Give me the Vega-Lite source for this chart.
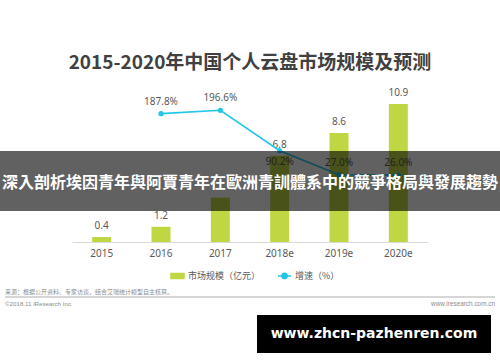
{
  "$schema": "https://vega.github.io/schema/vega-lite/v6.json",
  "width": 500,
  "height": 152,
  "autosize": {"type": "none"},
  "padding": {"left": 0, "right": 0, "top": 90, "bottom": 120},
  "background": "white",
  "config": {"view": {"stroke": null}},
  "title": {
    "text": "2015-2020年中国个人云盘市场规模及预测",
    "font": "Noto Sans CJK SC",
    "fontSize": 19,
    "fontWeight": "bold",
    "color": "#404040",
    "anchor": "middle",
    "frame": "group",
    "baseline": "alphabetic",
    "offset": 0
  },
  "data": {
    "values": [
      {"year": "2015", "size": 0.4, "growth": null},
      {"year": "2016", "size": 1.2, "growth": 1.878},
      {"year": "2017", "size": 3.5, "growth": 1.966},
      {"year": "2018e", "size": 6.8, "growth": 0.902},
      {"year": "2019e", "size": 8.6, "growth": 0.27},
      {"year": "2020e", "size": 10.9, "growth": 0.26}
    ]
  },
  "layer": [
    {
      "layer": [
        {
          "layer": [
            {
              "mark": {"type": "bar"},
              "encoding": {
                "x": {"field": "year", "type": "nominal", "sort": null, "scale": {"range": [72, 428], "paddingInner": 0.68, "paddingOuter": 0.34}, "axis": {"title": null, "domain": true, "domainColor": "#d9d9d9", "domainWidth": 1, "ticks": false, "labelPadding": 6, "labelFont": "Noto Sans", "labelFontSize": 10, "labelColor": "#595959", "labelAngle": 0}},
                "y": {"field": "size", "type": "quantitative", "scale": {"domain": [0, 11.8]}, "axis": null},
                "color": {
                  "datum": "市场规模（亿元）",
                  "scale": {"domain": ["市场规模（亿元）", "增速（%）"], "range": ["#c0d743", "#22c6ea"]},
                  "legend": {
                    "orient": "none", "legendX": 170, "legendY": 178, "direction": "horizontal", "title": null,
                    "symbolSize": 169, "labelFont": "Noto Sans CJK SC", "labelFontSize": 9, "labelColor": "#595959",
                    "labelOffset": 3, "columnPadding": 14,
                    "encode": {"symbols": {"update": {
                      "shape": {"signal": "datum.value === '增速（%）' ? 'M-1,0H1M0.4,0A0.4,0.4,0,1,1,-0.4,0A0.4,0.4,0,1,1,0.4,0Z' : 'M-1,-0.38H1V0.38H-1Z'"},
                      "fill": {"scale": "color", "field": "value"},
                      "stroke": {"scale": "color", "field": "value"},
                      "strokeWidth": {"value": 1.5},
                      "opacity": {"value": 1}
                    }}}
                  }
                }
              }
            },
            {
              "transform": [{"filter": "datum.year !== '2017'"}],
              "mark": {"type": "text", "baseline": "alphabetic", "dy": -8, "font": "Noto Sans", "fontSize": 10, "color": "#595959"},
              "encoding": {
                "x": {"field": "year", "type": "nominal", "sort": null},
                "y": {"field": "size", "type": "quantitative"},
                "text": {"field": "size", "type": "quantitative", "format": ".1f"}
              }
            }
          ]
        },
        {
          "transform": [{"filter": "isValid(datum.growth)"}],
          "layer": [
            {
              "mark": {"type": "line", "strokeWidth": 1.6},
              "encoding": {
                "x": {"field": "year", "type": "nominal", "sort": null},
                "y": {"field": "growth", "type": "quantitative", "scale": {"domain": [-1.07, 2.46]}, "axis": null},
                "color": {
                  "datum": "增速（%）",
                  "scale": {"domain": ["市场规模（亿元）", "增速（%）"], "range": ["#c0d743", "#22c6ea"]}
                }
              }
            },
            {
              "mark": {"type": "point", "filled": true, "size": 28, "color": "#22c6ea", "opacity": 1},
              "encoding": {
                "x": {"field": "year", "type": "nominal", "sort": null},
                "y": {"field": "growth", "type": "quantitative"}
              }
            },
            {
              "transform": [{"filter": "datum.year !== '2018e'"}],
              "mark": {"type": "text", "baseline": "alphabetic", "dy": -9, "font": "Noto Sans", "fontSize": 10, "color": "#595959"},
              "encoding": {
                "x": {"field": "year", "type": "nominal", "sort": null},
                "y": {"field": "growth", "type": "quantitative"},
                "text": {"field": "growth", "type": "quantitative", "format": ".1%"}
              }
            },
            {
              "transform": [{"filter": "datum.year === '2018e'"}],
              "mark": {"type": "text", "baseline": "alphabetic", "dy": 14, "font": "Noto Sans", "fontSize": 10, "color": "#595959"},
              "encoding": {
                "x": {"field": "year", "type": "nominal", "sort": null},
                "y": {"field": "growth", "type": "quantitative"},
                "text": {"field": "growth", "type": "quantitative", "format": ".1%"}
              }
            }
          ]
        }
      ],
      "resolve": {"scale": {"y": "independent"}}
    },
    {
      "data": {"values": [{}]},
      "mark": {"type": "rect", "color": "black", "opacity": 0.62},
      "encoding": {
        "x": {"datum": 0, "type": "quantitative", "scale": {"domain": [0, 1]}, "axis": null},
        "x2": {"datum": 1},
        "y": {"datum": 0.599, "type": "quantitative", "scale": {"domain": [0, 1]}, "axis": null},
        "y2": {"datum": 0.204}
      }
    },
    {
      "data": {"values": [{}]},
      "mark": {"type": "text", "text": "深入剖析埃因青年與阿賈青年在歐洲青訓體系中的競爭格局與發展趨勢", "font": "Noto Sans CJK TC", "fontSize": 16, "fontWeight": "bold", "color": "white", "align": "center", "baseline": "middle"},
      "encoding": {
        "x": {"datum": 0.5, "type": "quantitative", "scale": {"domain": [0, 1]}, "axis": null},
        "y": {"datum": 0.388, "type": "quantitative", "scale": {"domain": [0, 1]}, "axis": null}
      }
    },
    {
      "data": {"values": [{}]},
      "mark": {"type": "rule", "color": "#c8c8c8", "strokeWidth": 1.5},
      "encoding": {
        "x": {"datum": 0.01, "type": "quantitative", "scale": {"domain": [0, 1]}, "axis": null},
        "x2": {"datum": 0.99},
        "y": {"datum": -0.362, "type": "quantitative", "scale": {"domain": [0, 1]}, "axis": null}
      }
    },
    {
      "data": {"values": [{}]},
      "mark": {"type": "text", "text": "来源：根据公开资料、专家访谈，结合艾瑞统计模型自主核算。", "font": "Noto Sans CJK SC", "fontSize": 6, "color": "#8c8c8c", "align": "left", "baseline": "middle"},
      "encoding": {
        "x": {"datum": 0.01, "type": "quantitative", "scale": {"domain": [0, 1]}, "axis": null},
        "y": {"datum": -0.332, "type": "quantitative", "scale": {"domain": [0, 1]}, "axis": null}
      }
    },
    {
      "data": {"values": [{}]},
      "mark": {"type": "text", "text": "©2018.11 iResearch Inc", "font": "Liberation Sans", "fontSize": 6.2, "color": "#8c8c8c", "align": "left", "baseline": "middle"},
      "encoding": {
        "x": {"datum": 0.01, "type": "quantitative", "scale": {"domain": [0, 1]}, "axis": null},
        "y": {"datum": -0.405, "type": "quantitative", "scale": {"domain": [0, 1]}, "axis": null}
      }
    },
    {
      "data": {"values": [{}]},
      "mark": {"type": "text", "text": "www.iresearch.com.cn", "font": "Liberation Sans", "fontSize": 6.4, "color": "#8c8c8c", "align": "right", "baseline": "middle"},
      "encoding": {
        "x": {"datum": 0.99, "type": "quantitative", "scale": {"domain": [0, 1]}, "axis": null},
        "y": {"datum": -0.405, "type": "quantitative", "scale": {"domain": [0, 1]}, "axis": null}
      }
    },
    {
      "data": {"values": [{}]},
      "mark": {"type": "rect", "color": "black", "opacity": 1},
      "encoding": {
        "x": {"datum": 0.514, "type": "quantitative", "scale": {"domain": [0, 1]}, "axis": null},
        "x2": {"datum": 0.982},
        "y": {"datum": -0.48, "type": "quantitative", "scale": {"domain": [0, 1]}, "axis": null},
        "y2": {"datum": -0.73}
      }
    },
    {
      "data": {"values": [{}]},
      "mark": {"type": "text", "text": "www.zhcn-pazhenren.com", "font": "DejaVu Sans", "fontSize": 14, "fontWeight": "bold", "color": "white", "align": "center", "baseline": "middle"},
      "encoding": {
        "x": {"datum": 0.748, "type": "quantitative", "scale": {"domain": [0, 1]}, "axis": null},
        "y": {"datum": -0.605, "type": "quantitative", "scale": {"domain": [0, 1]}, "axis": null}
      }
    }
  ],
  "resolve": {"scale": {"x": "independent", "y": "independent"}}
}
